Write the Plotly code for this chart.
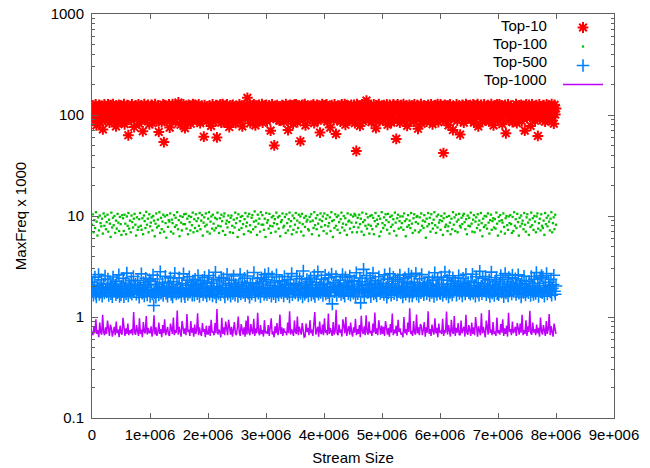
import numpy as np
import plotly.graph_objects as go

# ---------------- data ----------------
series_names = ["Top-10", "Top-100", "Top-500", "Top-1000"]
stream_end = 8.0e6

top10 = [
    112, 96, 124, 88, 105, 127, 79, 118, 101, 93, 126, 84, 109, 121, 98, 72, 115, 127, 90, 104,
    119, 101, 127, 92, 84, 113, 125, 97, 108, 128, 88, 116, 103, 77, 122, 94, 110, 126, 99, 86,
    123, 86, 110, 99, 128, 81, 117, 94, 107, 125, 63, 113, 102, 120, 89, 127, 97, 108, 76, 122,
    106, 124, 91, 118, 127, 82, 111, 100, 123, 95, 69, 115, 128, 89, 104, 120, 93, 126, 109, 81,
    95, 116, 126, 83, 104, 119, 91, 128, 100, 87, 114, 124, 68, 106, 98, 121, 85, 111, 127, 54,
    125, 98, 114, 87, 121, 106, 127, 75, 102, 117, 90, 128, 110, 96, 124, 85, 112, 101, 119, 133,
    118, 103, 80, 125, 92, 109, 127, 97, 74, 115, 122, 88, 106, 126, 99, 112, 82, 120, 95, 128,
    94, 111, 126, 103, 89, 120, 98, 127, 116, 83, 107, 123, 92, 114, 61, 125, 100, 118, 87, 109,
    107, 90, 124, 114, 78, 101, 127, 86, 119, 96, 110, 125, 60, 104, 122, 93, 116, 127, 84, 102,
    128, 85, 104, 122, 96, 113, 127, 90, 118, 76, 106, 124, 101, 88, 126, 111, 95, 120, 83, 115,
    121, 98, 113, 127, 89, 106, 123, 77, 117, 100, 126, 92, 108, 119, 148, 95, 111, 128, 83, 105,
    103, 120, 93, 127, 110, 79, 124, 99, 115, 87, 126, 105, 91, 119, 128, 84, 108, 97, 123, 112,
    126, 87, 118, 102, 124, 94, 70, 112, 127, 99, 115, 50, 122, 107, 91, 125, 103, 116, 88, 120,
    89, 116, 125, 100, 86, 121, 107, 128, 94, 113, 71, 119, 102, 126, 90, 110, 124, 82, 105, 127,
    97, 127, 109, 85, 123, 114, 96, 55, 119, 104, 126, 90, 111, 128, 79, 101, 121, 94, 117, 108,
    117, 96, 108, 124, 91, 127, 83, 112, 100, 120, 126, 88, 114, 98, 67, 122, 106, 128, 93, 110,
    124, 92, 106, 127, 86, 115, 100, 122, 75, 110, 125, 98, 118, 89, 127, 103, 65, 113, 120, 95,
    99, 123, 86, 115, 127, 104, 92, 119, 128, 80, 109, 125, 97, 113, 88, 121, 101, 126, 95, 117,
    105, 126, 83, 117, 44, 128, 91, 109, 123, 78, 114, 102, 127, 87, 120, 96, 111, 124, 139, 100,
    126, 90, 111, 98, 122, 85, 118, 106, 127, 93, 116, 74, 124, 102, 110, 128, 87, 114, 100, 121,
    116, 88, 125, 107, 93, 121, 127, 80, 112, 98, 126, 105, 84, 119, 101, 127, 90, 115, 122, 58,
    108, 127, 95, 120, 84, 112, 125, 99, 106, 128, 89, 117, 103, 123, 78, 115, 96, 126, 91, 111,
    99, 123, 110, 86, 127, 104, 117, 92, 125, 73, 108, 120, 96, 128, 82, 113, 106, 124, 89, 118,
    122, 86, 104, 126, 97, 118, 90, 127, 109, 81, 121, 100, 113, 125, 94, 107, 128, 85, 119, 102,
    127, 95, 103, 122, 42, 111, 126, 87, 116, 100, 124, 79, 109, 127, 93, 119, 104, 71, 121, 97,
    93, 115, 127, 88, 110, 123, 101, 64, 117, 96, 126, 105, 84, 120, 112, 128, 92, 108, 124, 99,
    112, 125, 90, 118, 106, 127, 84, 114, 101, 123, 95, 128, 77, 110, 120, 98, 126, 86, 107, 117,
    127, 104, 89, 119, 97, 125, 111, 86, 122, 100, 128, 93, 116, 79, 106, 124, 98, 113, 127, 90,
    102, 127, 93, 115, 124, 81, 108, 121, 99, 126, 66, 113, 104, 127, 89, 118, 96, 123, 111, 85,
    105, 121, 96, 112, 128, 83, 118, 101, 124, 91, 109, 126, 87, 115, 99, 122, 70, 110, 127, 94,
    120, 100, 126, 109, 78, 116, 127, 94, 106, 122, 88, 114, 125, 97, 62, 110, 127, 91, 119, 103,
    118, 92, 125, 100, 86, 114, 127, 97, 107, 123, 89, 120, 104, 128, 95, 111, 82, 126, 101, 116,
]

top100 = [
    8.2, 10.4, 6.9, 9.1, 7.6, 10.9, 8.8, 6.4, 9.7, 7.2, 10.1, 8.5, 7.9, 9.4, 6.7, 10.6, 8.0, 9.9, 7.4, 8.7,
    10.3, 7.0, 9.2, 8.4, 6.2, 10.8, 7.7, 9.6, 8.1, 10.0, 6.8, 9.0, 7.5, 10.5, 8.6, 7.1, 9.8, 8.3, 6.5, 10.2,
    9.5, 7.1, 10.3, 8.4, 6.6, 9.9, 8.0, 10.7, 7.5, 9.0, 6.9, 10.1, 8.7, 7.7, 9.4, 10.5, 8.2, 6.4, 9.7, 7.3,
    7.8, 9.3, 10.7, 8.0, 7.3, 9.5, 6.6, 10.1, 8.9, 7.6, 11.0, 8.2, 9.4, 6.9, 10.4, 7.9, 8.6, 9.7, 7.2, 10.0,
    9.0, 6.3, 8.4, 10.6, 7.7, 9.2, 8.0, 10.9, 6.8, 9.6, 7.4, 8.8, 10.3, 7.0, 9.9, 8.5, 6.1, 10.2, 7.8, 9.1,
    8.8, 10.6, 7.0, 9.2, 8.5, 6.7, 10.2, 7.8, 9.6, 8.1, 10.9, 7.4, 9.1, 6.3, 10.0, 8.6, 7.2, 9.8, 8.3, 10.4,
    8.3, 10.5, 7.5, 9.4, 6.6, 10.0, 8.7, 7.2, 9.8, 8.1, 10.8, 6.9, 9.3, 7.6, 10.4, 8.9, 7.1, 9.5, 8.0, 10.7,
    7.4, 9.0, 10.2, 6.4, 8.6, 9.7, 7.9, 10.6, 8.2, 7.0, 9.4, 10.9, 6.7, 8.8, 9.9, 7.5, 10.3, 8.4, 7.2, 9.6,
    7.6, 9.3, 10.8, 8.0, 6.8, 9.5, 7.9, 10.3, 8.9, 7.1, 9.9, 10.6, 6.5, 8.4, 9.0, 7.7, 10.1, 8.7, 6.9, 9.6,
    10.1, 8.0, 6.8, 9.2, 7.7, 10.8, 8.5, 9.5, 6.2, 10.4, 7.3, 8.9, 9.8, 7.6, 10.0, 8.3, 6.6, 9.3, 10.7, 7.9,
    8.6, 9.9, 7.1, 10.5, 8.1, 6.9, 9.6, 10.2, 7.4, 8.8, 11.1, 7.8, 9.0, 6.5, 10.3, 8.4, 9.4, 7.0, 10.9, 8.2,
    10.2, 8.2, 7.3, 9.4, 6.2, 10.7, 8.6, 9.1, 7.5, 10.5, 8.0, 6.8, 9.7, 7.9, 10.0, 8.5, 9.3, 7.0, 10.8, 8.3,
    9.7, 7.5, 10.0, 6.3, 8.7, 9.1, 10.6, 7.7, 8.0, 9.8, 6.8, 10.4, 8.5, 7.2, 9.3, 10.8, 7.9, 8.9, 6.6, 10.1,
    7.3, 9.5, 8.2, 10.7, 6.9, 9.0, 7.6, 10.3, 8.6, 9.9, 7.0, 10.5, 8.3, 6.4, 9.6, 7.8, 10.0, 8.8, 9.2, 7.4,
    7.2, 9.8, 8.8, 10.4, 6.6, 9.0, 7.6, 10.9, 8.1, 9.5, 7.4, 10.2, 8.4, 6.4, 9.2, 10.6, 7.8, 8.9, 9.9, 7.1,
    10.6, 8.1, 9.4, 6.7, 10.2, 7.9, 8.5, 9.7, 7.1, 10.9, 8.9, 6.2, 9.1, 7.6, 10.4, 8.0, 9.8, 7.3, 10.1, 8.7,
    6.8, 9.3, 10.8, 7.7, 8.4, 10.0, 7.2, 9.5, 8.2, 6.5, 10.6, 8.8, 9.0, 7.5, 10.3, 8.6, 6.9, 9.9, 7.8, 10.5,
    10.1, 8.6, 6.9, 9.6, 7.7, 10.3, 8.3, 9.4, 7.0, 10.8, 8.7, 6.5, 9.1, 8.0, 10.5, 7.5, 9.7, 8.2, 6.7, 10.0,
    8.0, 10.2, 7.4, 9.6, 6.6, 8.9, 10.7, 7.9, 9.2, 8.3, 10.0, 6.3, 9.4, 7.0, 10.9, 8.5, 7.6, 9.7, 8.1, 10.4,
    9.1, 7.3, 10.5, 8.7, 6.7, 9.8, 7.8, 10.1, 8.2, 9.3, 7.1, 10.8, 8.6, 6.4, 9.5, 10.3, 7.5, 8.9, 9.9, 7.7,
    8.5, 9.9, 7.3, 10.6, 8.9, 6.3, 9.3, 7.8, 10.2, 8.1, 9.0, 7.6, 10.7, 8.4, 6.8, 9.5, 10.4, 7.2, 8.7, 9.8,
    10.0, 8.4, 6.9, 9.7, 7.2, 10.6, 8.0, 9.0, 7.6, 10.2, 8.8, 6.1, 9.4, 7.9, 10.7, 8.3, 9.6, 7.0, 10.4, 8.5,
    7.5, 9.2, 10.9, 8.1, 6.8, 9.9, 7.7, 10.3, 8.6, 9.1, 7.3, 10.0, 8.9, 6.5, 9.5, 10.6, 7.8, 8.2, 9.8, 7.1,
    7.9, 10.0, 8.6, 6.6, 9.4, 7.4, 10.9, 8.2, 9.7, 7.1, 10.3, 8.8, 6.9, 9.2, 10.5, 8.0, 7.7, 9.6, 8.3, 10.1,
    10.5, 8.7, 7.4, 9.3, 6.6, 10.1, 8.0, 9.6, 7.9, 10.8, 8.4, 7.0, 9.2, 10.2, 6.9, 8.8, 9.7, 7.6, 10.4, 8.2,
    9.0, 7.2, 10.7, 8.5, 6.3, 9.4, 7.8, 10.0, 8.1, 9.9, 7.5, 10.6, 8.6, 6.7, 9.1, 10.3, 7.3, 8.9, 9.5, 7.7,
    9.3, 7.5, 10.8, 8.4, 6.4, 9.8, 8.9, 10.2, 7.0, 9.1, 8.6, 10.6, 7.8, 6.7, 9.5, 10.0, 8.1, 7.3, 9.9, 8.5,
    10.2, 8.3, 6.8, 9.8, 7.1, 10.9, 8.0, 9.3, 7.6, 10.5, 8.7, 6.4, 9.6, 7.9, 10.1, 8.4, 9.0, 7.4, 10.7, 8.2,
    7.0, 9.7, 10.4, 8.6, 6.5, 9.2, 7.8, 10.8, 8.1, 9.5, 7.3, 10.0, 8.8, 6.9, 9.9, 10.6, 7.5, 8.5, 9.4, 7.2,
    10.4, 8.0, 7.6, 9.0, 6.5, 10.7, 8.3, 9.6, 7.9, 10.1, 8.8, 7.2, 9.4, 10.9, 6.9, 8.5, 9.7, 7.4, 10.3, 8.2,
]

top500 = [
    1.82, 2.21, 1.64, 1.95, 2.48, 1.71, 1.58, 2.07, 1.88, 2.63, 1.67, 1.99, 1.76, 2.34, 1.61, 1.90, 2.12, 1.73, 2.55, 1.84,
    1.77, 1.96, 2.38, 1.63, 1.85, 2.14, 1.70, 2.02, 1.59, 2.49, 1.81, 1.92, 2.07, 1.66, 2.26, 1.74, 1.89, 2.61, 1.60, 1.99,
    1.66, 2.02, 1.79, 2.41, 1.59, 1.93, 2.17, 1.70, 2.72, 1.86, 1.62, 2.09, 1.97, 1.75, 2.29, 1.68, 1.89, 2.52, 1.78, 2.04,
    2.11, 1.68, 1.86, 2.30, 1.75, 1.57, 2.04, 1.93, 2.67, 1.72, 1.83, 2.19, 1.62, 1.97, 2.42, 1.79, 1.65, 2.08, 1.88, 2.33,
    1.60, 2.25, 1.83, 1.69, 2.60, 1.30, 1.74, 2.11, 1.57, 1.91, 2.38, 1.80, 1.65, 2.00, 2.81, 1.72, 1.87, 2.19, 1.63, 1.98,
    1.84, 2.53, 1.71, 1.95, 1.61, 2.17, 1.80, 2.01, 2.44, 1.67, 1.90, 1.58, 2.24, 1.76, 2.71, 1.86, 1.69, 2.10, 1.94, 1.73,
    2.44, 1.77, 1.92, 1.61, 2.14, 1.85, 2.67, 1.70, 1.59, 2.05, 1.81, 2.31, 1.67, 1.94, 2.50, 1.76, 1.88, 2.08, 1.64, 2.22,
    2.05, 1.64, 2.36, 1.82, 1.98, 1.70, 2.58, 1.87, 1.60, 2.13, 1.78, 1.93, 2.29, 1.66, 2.03, 2.47, 1.75, 1.89, 1.62, 2.20,
    1.79, 2.58, 1.68, 1.97, 1.84, 2.16, 1.62, 2.36, 1.90, 1.73, 2.77, 1.58, 2.01, 1.86, 1.71, 2.27, 1.95, 1.66, 2.46, 1.82,
    1.91, 2.40, 1.73, 1.58, 2.06, 1.85, 2.64, 1.68, 1.96, 2.15, 1.77, 1.61, 2.32, 1.88, 1.71, 2.55, 1.99, 1.64, 2.09, 1.83,
    1.93, 1.60, 2.10, 1.78, 2.64, 1.69, 1.99, 2.20, 1.75, 1.87, 2.42, 1.63, 2.03, 1.80, 2.55, 1.72, 1.91, 1.57, 2.13, 1.84,
    1.69, 2.18, 1.94, 2.76, 1.79, 1.63, 2.01, 1.86, 2.39, 1.72, 1.97, 2.12, 1.59, 2.45, 1.81, 1.90, 2.23, 1.67, 2.62, 1.76,
    2.33, 1.67, 1.96, 2.70, 1.74, 1.89, 2.06, 1.61, 2.49, 1.83, 1.70, 2.18, 1.94, 1.59, 2.62, 1.77, 2.00, 1.65, 2.28, 1.88,
    2.00, 1.74, 2.27, 1.89, 1.62, 2.51, 1.83, 1.95, 2.08, 1.70, 2.34, 1.78, 1.58, 2.16, 1.92, 2.69, 1.66, 1.87, 2.04, 1.80,
    1.73, 2.09, 2.53, 1.80, 1.64, 1.98, 2.40, 1.71, 1.92, 2.15, 1.58, 2.85, 1.85, 1.68, 2.04, 1.76, 2.35, 1.90, 1.62, 2.24,
    1.86, 2.43, 1.65, 2.10, 1.97, 1.72, 2.57, 1.60, 1.91, 2.21, 1.79, 2.80, 1.68, 1.94, 2.05, 1.75, 2.37, 1.84, 1.63, 2.14,
    1.95, 2.59, 1.69, 1.86, 2.12, 1.74, 2.45, 1.60, 1.97, 1.81, 2.66, 1.35, 2.01, 2.19, 1.78, 1.89, 2.51, 1.63, 1.93, 2.07,
    1.78, 1.99, 2.31, 1.67, 1.88, 2.63, 1.73, 2.07, 1.61, 2.46, 1.85, 1.96, 2.18, 1.70, 2.02, 2.54, 1.64, 1.90, 2.25, 1.81,
    1.72, 2.30, 1.84, 1.59, 2.74, 1.99, 1.70, 2.11, 1.87, 2.43, 1.38, 1.91, 2.23, 1.77, 2.96, 1.61, 2.05, 1.82, 2.57, 1.75,
    2.09, 1.76, 1.93, 2.41, 1.59, 2.16, 1.87, 2.72, 1.69, 1.98, 2.28, 1.74, 1.62, 2.06, 1.83, 2.50, 1.95, 1.71, 2.12, 1.89,
    1.90, 2.16, 1.67, 2.61, 1.80, 1.96, 1.57, 2.37, 1.73, 2.02, 2.68, 1.85, 1.64, 2.13, 1.94, 2.47, 1.70, 1.88, 2.26, 1.79,
    1.65, 2.35, 1.82, 1.97, 2.60, 1.73, 1.90, 2.03, 1.58, 2.22, 1.79, 2.44, 1.68, 1.94, 2.13, 1.86, 2.66, 1.61, 2.00, 1.77,
    2.54, 1.62, 1.98, 1.76, 2.20, 1.89, 2.71, 1.68, 2.08, 1.83, 1.60, 2.39, 1.92, 1.74, 2.63, 1.81, 2.00, 1.66, 2.17, 1.87,
    1.96, 1.70, 2.19, 1.84, 2.48, 1.63, 2.07, 1.91, 1.75, 2.30, 1.88, 1.60, 2.74, 1.80, 2.01, 1.67, 2.38, 1.93, 2.11, 1.72,
    1.71, 2.48, 1.95, 1.63, 2.10, 1.78, 2.79, 1.86, 1.69, 2.32, 1.99, 1.58, 2.56, 1.75, 1.91, 2.14, 1.65, 2.44, 1.84, 2.03,
    2.26, 1.85, 1.64, 2.04, 1.92, 2.56, 1.71, 1.99, 2.15, 1.78, 1.62, 2.42, 1.87, 2.08, 1.69, 2.65, 1.82, 1.95, 2.20, 1.74,
    1.93, 1.68, 2.27, 1.80, 2.65, 1.72, 1.97, 2.06, 1.61, 2.50, 1.88, 1.77, 2.18, 1.64, 2.83, 1.90, 2.01, 1.70, 2.41, 1.82,
    1.81, 2.12, 2.52, 1.66, 1.89, 2.01, 1.76, 2.33, 1.60, 1.94, 2.78, 1.73, 2.06, 1.86, 1.63, 2.24, 1.98, 2.45, 1.70, 1.91,
    1.66, 2.12, 1.94, 2.58, 1.76, 1.85, 2.34, 1.59, 2.00, 2.69, 1.73, 1.89, 2.22, 1.62, 2.46, 1.81, 1.96, 2.09, 1.69, 2.60,
    2.02, 1.79, 1.93, 2.39, 1.67, 2.17, 1.84, 2.61, 1.72, 1.97, 2.09, 1.58, 2.29, 1.88, 1.75, 2.53, 1.90, 1.65, 2.14, 1.83,
    1.87, 1.74, 2.25, 1.98, 1.63, 2.52, 1.79, 2.04, 1.67, 2.36, 1.92, 1.71, 2.75, 1.84, 2.15, 1.60, 1.95, 2.43, 1.78, 2.57,
    1.74, 2.47, 1.87, 1.61, 2.05, 1.95, 2.70, 1.69, 1.82, 2.21, 1.99, 1.77, 2.36, 1.64, 1.92, 2.10, 2.59, 1.80, 1.68, 2.03,
]

top1000 = [
    0.72, 0.66, 0.81, 0.69, 0.95, 0.68, 0.74, 0.63, 0.88, 0.70, 0.67, 1.05, 0.71, 0.66, 0.79, 0.68, 0.92, 0.73, 0.65, 0.84,
    0.78, 0.64, 0.71, 0.80, 0.66, 0.90, 0.69, 0.75, 0.63, 0.82, 0.70, 0.67, 0.98, 0.72, 0.65, 0.77, 0.68, 0.86, 0.66, 0.74,
    0.69, 0.76, 0.66, 1.12, 0.70, 0.67, 0.83, 0.72, 0.65, 0.97, 0.68, 0.75, 0.63, 0.89, 0.71, 0.69, 1.02, 0.67, 0.78, 0.70,
    0.70, 0.81, 0.64, 0.73, 1.04, 0.67, 0.79, 0.65, 0.71, 0.88, 0.68, 0.76, 0.63, 0.83, 0.69, 0.95, 0.66, 0.72, 0.80, 0.67,
    0.65, 0.86, 0.72, 0.68, 0.99, 0.66, 0.74, 0.70, 1.16, 0.67, 0.80, 0.69, 0.64, 0.91, 0.73, 0.68, 0.77, 0.66, 1.07, 0.71,
    0.75, 0.65, 0.91, 0.70, 0.78, 0.64, 0.84, 0.68, 0.73, 1.09, 0.66, 0.79, 0.69, 0.65, 0.87, 0.71, 0.76, 0.63, 0.82, 0.68,
    0.68, 0.82, 0.65, 0.94, 0.70, 0.72, 0.66, 0.87, 0.69, 1.20, 0.67, 0.75, 0.71, 0.63, 0.98, 0.68, 0.79, 0.66, 0.90, 0.72,
    0.66, 0.94, 0.72, 0.67, 0.80, 0.64, 0.75, 0.89, 0.69, 0.66, 0.78, 1.01, 0.70, 0.65, 0.85, 0.73, 0.67, 0.79, 0.64, 0.92,
    0.67, 1.03, 0.70, 0.66, 0.85, 0.73, 0.68, 0.96, 0.65, 0.77, 0.69, 1.10, 0.71, 0.66, 0.83, 0.68, 0.74, 0.64, 0.93, 0.70,
    0.71, 0.68, 0.83, 0.65, 0.76, 0.97, 0.67, 0.72, 0.63, 0.81, 0.69, 0.87, 0.66, 0.74, 1.06, 0.68, 0.79, 0.65, 0.77, 0.70,
    0.72, 0.66, 0.88, 0.69, 1.14, 0.67, 0.76, 0.70, 0.65, 0.92, 0.71, 0.68, 1.01, 0.66, 0.80, 0.73, 0.67, 0.87, 0.69, 0.63,
    0.64, 0.86, 0.71, 0.78, 0.66, 0.93, 0.69, 0.75, 0.65, 0.82, 1.12, 0.67, 0.73, 0.80, 0.64, 0.90, 0.70, 0.68, 0.84, 0.66,
    0.97, 0.70, 0.74, 0.66, 1.08, 0.68, 0.78, 0.71, 0.65, 0.89, 0.67, 0.72, 1.18, 0.69, 0.66, 0.84, 0.70, 0.75, 0.64, 0.95,
    0.77, 0.69, 1.00, 0.65, 0.74, 0.81, 0.67, 0.88, 0.71, 0.64, 0.79, 0.70, 0.96, 0.66, 0.76, 0.68, 0.83, 0.63, 1.03, 0.72,
    0.68, 0.81, 0.66, 1.04, 0.71, 0.67, 0.90, 0.69, 0.73, 0.65, 0.86, 0.70, 1.11, 0.68, 0.77, 0.66, 0.93, 0.72, 0.67, 0.82,
    0.68, 0.80, 0.65, 0.91, 0.73, 0.67, 0.78, 0.64, 0.85, 0.70, 1.08, 0.66, 0.75, 0.69, 0.82, 0.65, 0.94, 0.71, 0.77, 0.67,
    0.70, 0.63, 1.00, 0.69, 0.76, 0.66, 0.88, 0.71, 1.22, 0.68, 0.73, 0.65, 0.91, 0.70, 0.67, 1.06, 0.69, 0.79, 0.66, 0.85,
    0.81, 0.66, 0.74, 0.89, 0.64, 0.79, 0.70, 1.14, 0.68, 0.76, 0.65, 0.84, 0.72, 0.67, 0.97, 0.69, 0.78, 0.63, 0.86, 0.71,
    0.72, 0.68, 0.96, 0.65, 0.74, 0.70, 1.13, 0.67, 0.83, 0.69, 0.64, 0.94, 0.71, 0.68, 1.02, 0.65, 0.78, 0.70, 0.87, 0.67,
    0.66, 0.92, 0.69, 0.75, 0.80, 0.64, 1.05, 0.70, 0.67, 0.83, 0.73, 0.65, 0.88, 0.68, 0.79, 0.66, 1.00, 0.72, 0.64, 0.81,
    0.73, 0.66, 1.09, 0.69, 0.80, 0.68, 0.63, 0.92, 0.71, 0.67, 1.17, 0.70, 0.75, 0.66, 0.89, 0.68, 0.72, 0.65, 0.99, 0.69,
    0.74, 0.67, 0.85, 0.70, 0.95, 0.65, 0.77, 0.68, 0.82, 0.64, 1.10, 0.71, 0.76, 0.66, 0.90, 0.69, 0.73, 0.80, 0.65, 0.87,
    0.77, 0.67, 0.86, 0.70, 1.05, 0.66, 0.74, 0.68, 0.93, 0.65, 0.81, 0.71, 1.15, 0.69, 0.67, 0.88, 0.70, 0.76, 0.66, 0.84,
    0.69, 0.78, 0.64, 0.99, 0.72, 0.67, 0.83, 0.70, 0.65, 0.91, 0.68, 0.76, 1.07, 0.66, 0.81, 0.71, 0.64, 0.86, 0.73, 0.68,
]

x_tick_vals = [0, 1e6, 2e6, 3e6, 4e6, 5e6, 6e6, 7e6, 8e6, 9e6]
x_tick_text = ["0", "1e+006", "2e+006", "3e+006", "4e+006", "5e+006", "6e+006", "7e+006", "8e+006", "9e+006"]
y_tick_vals = [0.1, 1, 10, 100, 1000]
y_tick_text = ["0.1", "1", "10", "100", "1000"]

colors = ["#ff0000", "#00c000", "#0080ff", "#c000ff"]


def stream_positions(values):
    return np.linspace(0, stream_end, len(values))


FONT = "Liberation Sans, Arial, sans-serif"
TXT = dict(family=FONT, size=15, color="#000000")

fig = go.Figure()
fig.add_trace(go.Scatter(
    x=stream_positions(top10), y=top10, mode="markers", name=series_names[0],
    marker=dict(symbol="asterisk-open", size=9, color=colors[0],
                line=dict(color=colors[0], width=2)),
))
fig.add_trace(go.Scatter(
    x=stream_positions(top100), y=top100, mode="markers", name=series_names[1],
    marker=dict(symbol="square", size=2.3, color=colors[1], line=dict(width=0)),
))
fig.add_trace(go.Scatter(
    x=stream_positions(top500), y=top500, mode="markers", name=series_names[2],
    marker=dict(symbol="cross-thin-open", size=9, color=colors[2],
                line=dict(color=colors[2], width=1.6)),
))
fig.add_trace(go.Scatter(
    x=stream_positions(top1000), y=top1000, mode="lines", name=series_names[3],
    line=dict(color=colors[3], width=1.5),
))

axis_common = dict(
    showline=True, linecolor="#606060", linewidth=1, mirror="ticks",
    ticks="inside", tickcolor="#606060", showgrid=False, zeroline=False,
    automargin=False, tickfont=TXT,
)

fig.update_xaxes(
    range=[0, 9e6], tickvals=x_tick_vals, ticktext=x_tick_text, ticklen=5,
    ticklabelstandoff=3,
    title=dict(text="Stream Size", font=TXT, standoff=10),
    **axis_common,
)
fig.update_yaxes(
    type="log", range=[-1, 3], tickvals=y_tick_vals, ticktext=y_tick_text, ticklen=6,
    ticklabelstandoff=4,
    minor=dict(ticks="inside", ticklen=3, tickcolor="#606060", dtick="D1", showgrid=False),
    title=dict(text="MaxFreq x 1000", font=TXT, standoff=20),
    **axis_common,
)

# legend: symbols from the legend, labels right-aligned to their left (gnuplot style)
plot_left, plot_right, plot_top, plot_bottom = 92, 614, 14, 418
pw, ph = plot_right - plot_left, plot_bottom - plot_top
legend_rows_px = [25.5, 43.5, 61.5, 79.5]
label_right_px = 549

fig.update_layout(
    width=650, height=468, autosize=False,
    margin=dict(l=plot_left, r=650 - plot_right, t=plot_top, b=468 - plot_bottom,
                pad=0, autoexpand=False),
    plot_bgcolor="#ffffff", paper_bgcolor="#ffffff",
    showlegend=True,
    legend=dict(
        x=(558 - plot_left) / pw, y=1.0 + 1 / ph, xanchor="left", yanchor="top",
        bgcolor="rgba(0,0,0,0)", borderwidth=0, itemwidth=40,
        font=dict(family=FONT, size=10, color="rgba(0,0,0,0)"),
        tracegroupgap=0,
    ),
)
for name, ypx in zip(series_names, legend_rows_px):
    fig.add_annotation(
        xref="paper", yref="paper", x=(label_right_px - plot_left) / pw,
        y=(plot_bottom - ypx) / ph, text=name, showarrow=False,
        xanchor="right", yanchor="middle", font=TXT,
    )

fig.write_html(
    "out.html",
    config={"responsive": False, "displayModeBar": False},
    post_script="document.body.style.margin='0';document.body.style.overflow='hidden';",
)
